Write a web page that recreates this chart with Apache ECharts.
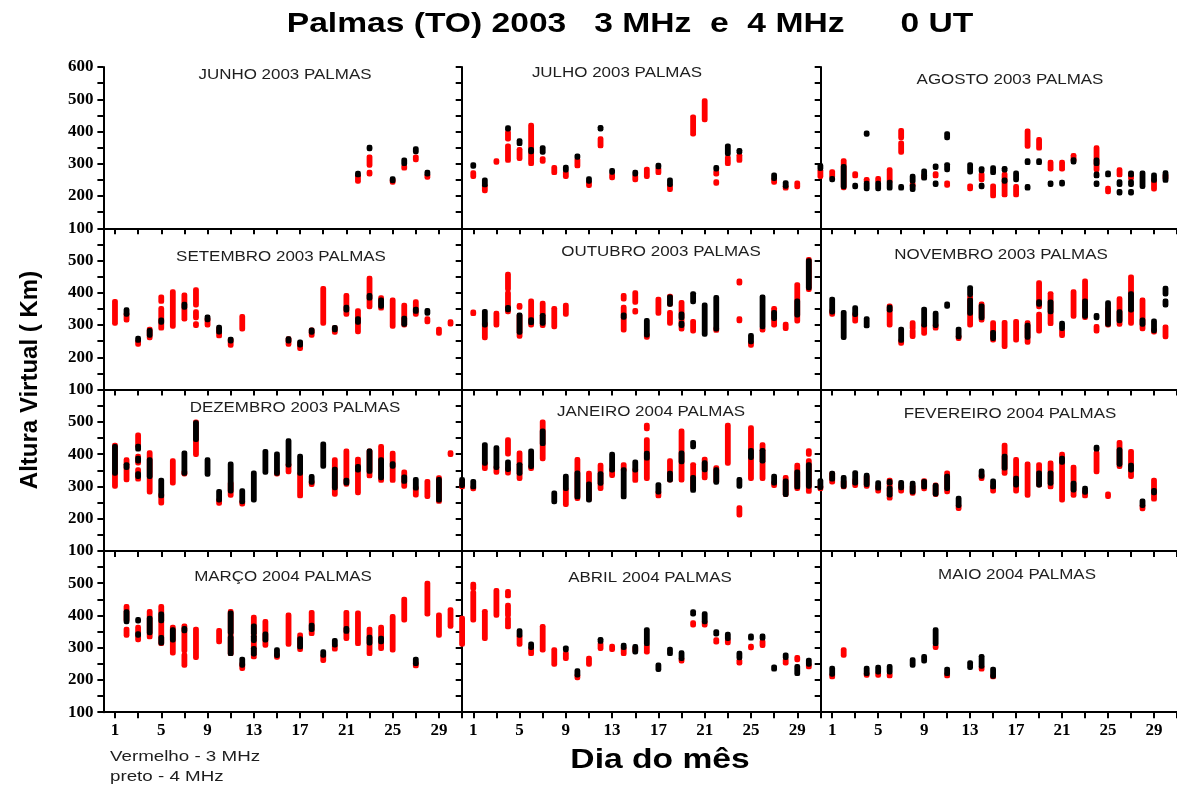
<!DOCTYPE html>
<html>
<head>
<meta charset="utf-8">
<script src="https://cdn.jsdelivr.net/npm/echarts@6/dist/echarts.min.js"></script>
<style>
  html, body { margin: 0; background: #fff; }
  #main { width: 1177px; height: 786px; }
</style>
</head>
<body>
<div id="main"></div>
<script>
// each entry: [dia, altura minima, altura maxima] (km)
const monthTitles = ['JUNHO 2003 PALMAS', 'JULHO 2003 PALMAS', 'AGOSTO 2003 PALMAS',
  'SETEMBRO 2003 PALMAS', 'OUTUBRO 2003 PALMAS', 'NOVEMBRO 2003 PALMAS',
  'DEZEMBRO 2003 PALMAS', 'JANEIRO 2004 PALMAS', 'FEVEREIRO 2004 PALMAS',
  'MARÇO 2004 PALMAS', 'ABRIL 2004 PALMAS', 'MAIO 2004 PALMAS']

const dayTicks = [1, 3, 5, 7, 9, 11, 13, 15, 17, 19, 21, 23, 25, 27, 29, 31]
const dayLabels = [1, 5, 9, 13, 17, 21, 25, 29]

const junhoRed = [[22,245,262],[23,295,322],[23,268,274],[25,242,250],[26,286,292],[27,312,322],[28,258,264]]
const junhoBlack = [[22,265,271],[23,346,352],[25,247,254],[26,300,312],[27,337,347],[28,268,274]]

const julhoRed = [[1,260,273],[2,216,232],[3,304,310],[4,310,356],[4,376,398],[5,316,345],[6,300,420],[7,307,316],[8,272,289],[9,260,273],[10,293,314],[11,232,242],[12,355,378],[13,256,266],[15,250,262],[16,260,284],[17,272,285],[18,220,232],[20,392,446],[21,436,496],[22,268,275],[22,239,245],[23,300,320],[24,310,326],[27,242,250],[28,224,230],[29,228,241],[31,260,280]]
const julhoBlack = [[1,292,298],[2,234,250],[4,407,412],[5,362,372],[6,337,345],[7,335,350],[9,280,290],[10,320,325],[11,245,254],[12,407,413],[13,273,280],[15,268,274],[17,290,296],[18,235,250],[22,283,289],[23,331,356],[24,336,342],[27,254,266],[28,230,242],[31,285,295]]

const agostoRed = [[1,260,276],[2,225,310],[3,262,270],[4,245,252],[5,246,255],[6,245,282],[7,335,365],[7,380,404],[8,232,238],[9,257,264],[10,262,270],[11,233,241],[13,222,232],[14,250,268],[15,200,232],[16,203,268],[17,203,230],[18,354,402],[19,348,376],[20,283,305],[21,283,305],[22,310,326],[24,281,350],[25,213,225],[26,265,282],[27,255,270],[29,221,250],[30,255,265]]
const agostoBlack = [[1,250,255],[2,228,292],[3,228,234],[4,222,240],[4,391,396],[5,222,240],[6,224,243],[7,224,230],[8,245,262],[8,220,232],[9,255,278],[10,288,294],[10,235,241],[11,380,394],[11,281,298],[13,274,298],[14,278,285],[14,228,234],[15,272,288],[16,245,250],[16,280,286],[17,250,272],[18,303,310],[18,224,230],[19,303,310],[20,235,241],[21,237,243],[22,305,313],[24,300,312],[24,262,269],[24,235,241],[25,265,272],[26,235,245],[26,209,215],[27,265,272],[27,235,245],[27,209,215],[28,229,272],[29,248,266],[30,248,273]]

const setembroRed = [[1,305,374],[2,315,335],[3,240,250],[4,260,288],[5,290,352],[5,373,388],[6,296,404],[7,318,394],[8,362,410],[8,322,342],[8,298,305],[9,300,320],[10,266,290],[11,237,255],[12,287,327],[16,240,258],[17,227,245],[18,268,285],[19,305,414],[20,277,292],[21,333,392],[22,279,345],[23,356,446],[24,352,385],[25,296,378],[26,300,362],[27,333,373],[28,310,320],[29,274,288],[30,303,311]]
const setembroBlack = [[2,333,348],[3,252,260],[4,268,284],[5,308,316],[7,355,365],[9,316,326],[10,278,294],[11,250,257],[16,250,258],[17,238,248],[18,277,285],[20,285,293],[21,346,356],[22,308,320],[23,383,392],[24,358,378],[26,302,322],[27,342,350],[28,336,346]]

const outubroRed = [[1,335,341],[2,260,305],[3,300,337],[4,341,400],[4,411,458],[5,265,330],[5,355,361],[6,300,375],[7,298,368],[8,294,352],[9,333,362],[14,284,356],[14,380,392],[15,370,401],[15,340,346],[16,262,270],[17,336,381],[18,305,340],[18,364,390],[19,287,371],[20,281,312],[22,283,290],[24,430,437],[24,313,320],[25,237,245],[26,284,290],[27,300,352],[28,289,303],[29,312,426],[30,410,504]]
const outubroBlack = [[2,300,343],[4,347,355],[5,277,332],[6,307,317],[7,305,330],[14,324,332],[16,269,315],[18,364,388],[19,322,335],[19,298,306],[20,372,398],[21,271,363],[22,287,386],[25,248,268],[26,294,388],[27,320,340],[29,331,375],[30,415,500]]

const novembroRed = [[1,333,345],[3,312,335],[6,300,360],[7,243,252],[8,290,308],[8,264,283],[9,274,300],[10,290,300],[12,258,265],[13,300,388],[14,315,366],[15,253,308],[16,233,309],[17,253,312],[18,246,308],[19,356,432],[19,281,334],[20,304,398],[21,267,282],[22,327,404],[23,323,437],[24,281,296],[25,300,350],[26,302,382],[27,305,450],[28,288,378],[29,278,285],[30,263,295]]
const novembroBlack = [[1,340,381],[2,261,340],[3,332,354],[4,297,320],[6,346,356],[7,252,288],[9,300,350],[10,298,337],[11,358,366],[12,263,288],[13,336,378],[13,394,416],[14,322,360],[15,258,278],[18,262,300],[19,364,373],[20,341,372],[21,289,306],[23,327,375],[24,322,330],[25,302,370],[26,313,342],[27,346,398],[28,302,316],[29,282,313],[30,396,415],[30,362,375]]

const dezembroRed = [[1,300,428],[2,320,383],[3,322,352],[3,372,394],[3,424,460],[4,282,405],[5,248,275],[6,310,380],[7,338,345],[8,398,500],[10,247,258],[11,272,310],[12,245,253],[15,338,345],[16,345,368],[17,270,338],[18,305,315],[20,275,383],[21,306,410],[22,280,385],[23,332,410],[24,318,424],[25,318,403],[26,300,345],[27,273,296],[28,268,316],[29,253,327],[30,398,405],[31,298,305]]
const dezembroBlack = [[1,340,424],[2,358,368],[3,330,340],[3,378,388],[3,415,425],[4,330,383],[5,270,320],[7,340,404],[8,445,498],[9,337,383],[10,257,285],[11,285,370],[12,252,287],[13,257,342],[14,343,409],[15,340,401],[16,366,442],[17,340,394],[18,312,331],[19,362,432],[20,295,354],[21,310,320],[22,350,362],[23,346,410],[24,326,383],[25,362,371],[26,315,330],[27,294,322],[29,257,322],[31,302,322]]

const janeiroRed = [[1,292,298],[2,355,372],[3,343,360],[4,341,355],[4,400,445],[5,324,404],[6,355,362],[7,385,500],[9,243,290],[10,262,384],[11,260,341],[12,293,366],[13,333,352],[14,350,368],[15,318,352],[16,324,445],[16,478,490],[17,270,282],[18,319,380],[19,319,472],[20,293,368],[21,326,385],[22,316,358],[23,371,490],[24,211,234],[25,324,482],[26,324,430],[27,302,312],[28,274,328],[29,293,366],[30,284,380],[30,399,411],[31,292,300]]
const janeiroBlack = [[1,298,316],[2,371,430],[3,358,420],[4,352,376],[5,340,368],[6,361,410],[7,432,472],[8,252,280],[9,293,332],[10,267,342],[11,257,308],[12,309,340],[13,350,400],[14,267,352],[15,350,376],[16,387,403],[17,282,306],[18,319,341],[19,376,404],[20,287,328],[20,422,437],[21,351,374],[22,312,352],[24,300,322],[25,389,412],[26,378,412],[27,310,332],[28,274,317],[29,298,345],[30,300,368],[31,296,318]]

const fevereiroRed = [[1,313,340],[2,298,315],[3,302,320],[4,300,330],[5,285,300],[6,263,320],[7,285,305],[8,278,300],[9,292,318],[10,274,305],[11,283,342],[12,231,240],[14,324,335],[15,285,300],[16,340,428],[17,285,384],[18,272,370],[19,304,368],[20,298,373],[21,257,400],[22,272,360],[23,270,285],[24,345,405],[25,268,277],[26,361,437],[27,330,409],[28,230,240],[29,260,320]]
const fevereiroBlack = [[1,322,341],[2,300,328],[3,310,343],[4,305,335],[5,294,312],[6,310,316],[6,273,295],[7,295,313],[8,282,310],[9,298,316],[10,276,303],[11,293,332],[12,240,264],[14,331,348],[15,298,317],[16,356,394],[17,304,326],[19,304,342],[20,309,342],[21,374,388],[22,288,310],[23,281,295],[24,415,422],[26,368,414],[27,350,366],[28,240,255],[29,280,288]]

const marcoRed = [[2,385,428],[2,338,358],[3,324,364],[4,333,413],[5,312,428],[6,283,364],[7,290,368],[7,245,278],[8,269,358],[10,318,354],[11,281,413],[12,235,250],[13,271,395],[14,307,382],[15,270,278],[16,310,402],[17,294,340],[18,343,410],[19,260,275],[20,295,305],[21,328,410],[22,312,408],[23,281,358],[24,297,364],[25,292,397],[26,385,451],[27,243,252],[28,404,500],[29,338,402],[30,366,418],[31,310,392]]
const marcoBlack = [[2,380,412],[3,338,344],[3,382,388],[4,346,392],[5,383,405],[5,314,332],[6,323,356],[7,352,360],[11,346,408],[11,281,333],[12,245,265],[13,345,368],[13,322,335],[13,280,298],[14,323,343],[15,275,294],[17,302,328],[18,356,370],[19,276,288],[20,308,323],[21,350,360],[23,314,333],[24,318,330],[27,250,265]]

const abrilRed = [[1,385,472],[1,483,497],[2,328,413],[3,400,478],[4,460,475],[4,400,432],[4,364,390],[5,310,335],[6,281,299],[7,292,366],[8,248,294],[9,266,283],[10,206,214],[11,248,268],[12,297,312],[13,294,305],[14,281,299],[15,290,300],[16,286,306],[19,258,265],[20,370,378],[21,370,380],[22,317,325],[23,315,324],[24,252,260],[25,299,305],[26,306,320],[28,252,262],[29,262,270],[30,240,246]]
const abrilBlack = [[5,338,353],[6,300,312],[9,293,300],[10,215,229],[12,319,326],[14,300,308],[15,286,304],[16,312,356],[17,232,247],[18,281,296],[19,266,285],[20,404,412],[21,380,406],[22,342,350],[23,328,342],[24,268,283],[25,329,337],[26,329,337],[27,233,241],[28,269,278],[29,219,242],[30,248,262]]

const maioRed = [[1,209,215],[2,276,294],[4,214,220],[5,214,220],[6,212,218],[10,300,306],[11,212,218],[14,233,240],[15,209,213]]
const maioBlack = [[1,217,237],[4,219,237],[5,224,240],[6,224,242],[8,245,263],[9,258,273],[10,312,356],[11,219,234],[13,238,254],[14,242,273],[15,211,234]]

const panelData = [
  [junhoRed, junhoBlack], [julhoRed, julhoBlack], [agostoRed, agostoBlack],
  [setembroRed, setembroBlack], [outubroRed, outubroBlack], [novembroRed, novembroBlack],
  [dezembroRed, dezembroBlack], [janeiroRed, janeiroBlack], [fevereiroRed, fevereiroBlack],
  [marcoRed, marcoBlack], [abrilRed, abrilBlack], [maioRed, maioBlack]
]

// layout
const colLeft = [103.4, 461.7, 820.7]
const panelW = 358.7
const rowTop = 67
const panelH = 161.3
const titlePos = [[285, 75], [617, 73], [1010, 80], [281, 257], [661, 252], [1001, 255],
  [295, 408], [651, 412], [1010, 414], [283, 577], [650, 578], [1017, 575]]

const RED = '#ff0000'
const BLACK = '#000000'
const serifBold = { fontFamily: 'Liberation Serif', fontWeight: 'bold', fontSize: 17, color: '#000' }

function stripRenderer(color) {
  return function(params, api) {
    const lo = api.coord([api.value(0), api.value(1)])
    const hi = api.coord([api.value(0), api.value(2)])
    const w = 5.8
    return {
      type: 'rect',
      shape: { x: lo[0] - w / 2, y: hi[1] - 2.3, width: w, height: lo[1] - hi[1] + 4.6, r: 2.2 },
      style: { fill: color }
    }
  }
}

const grid = []
const xAxis = []
const yAxis = []
const series = []
const graphic = []

panelData.forEach(([red, black], i) => {
  const r = Math.floor(i / 3)
  const c = i % 3
  grid.push({ left: colLeft[c], top: rowTop + r * panelH, width: panelW, height: panelH })

  const bottomIdx = xAxis.length
  xAxis.push({
    gridIndex: i, type: 'value', min: 0, max: 31, position: 'bottom',
    axisLine: { show: true, onZero: false, lineStyle: { color: '#000', width: 2 } },
    axisTick: { show: r === 3, inside: false, length: 6, customValues: dayTicks, lineStyle: { color: '#000', width: 2 } },
    axisLabel: { show: r === 3, customValues: dayLabels, margin: 10, ...serifBold },
    splitLine: { show: false }
  })
  if (r > 0) {
    xAxis.push({
      gridIndex: i, type: 'value', min: 0, max: 31, position: 'top',
      axisLine: { show: true, onZero: false, lineStyle: { color: '#000', width: 2 } },
      axisTick: { show: true, inside: true, length: 6, customValues: dayTicks, lineStyle: { color: '#000', width: 2 } },
      axisLabel: { show: false },
      splitLine: { show: false }
    })
  }
  yAxis.push({
    gridIndex: i, type: 'value', min: 100, max: 600, interval: 50,
    axisLine: { show: true, onZero: false, lineStyle: { color: '#000', width: 2 } },
    axisTick: { show: true, inside: false, length: 6, lineStyle: { color: '#000', width: 2 } },
    axisLabel: {
      show: c === 0, margin: 10, ...serifBold,
      formatter: v => (v % 100 === 0 && (r === 0 || v < 600)) ? String(v) : ''
    },
    splitLine: { show: false }
  })

  series.push({
    type: 'custom', xAxisIndex: bottomIdx, yAxisIndex: i, clip: false,
    renderItem: stripRenderer(RED), encode: { x: 0, y: [1, 2] }, data: red, silent: true
  })
  series.push({
    type: 'custom', xAxisIndex: bottomIdx, yAxisIndex: i, clip: false,
    renderItem: stripRenderer(BLACK), encode: { x: 0, y: [1, 2] }, data: black, silent: true
  })

  graphic.push({
    type: 'text', x: titlePos[i][0], y: titlePos[i][1], scaleX: 1.13,
    style: { text: monthTitles[i], fontFamily: 'Liberation Sans', fontSize: 15, fill: '#1e1e1e', align: 'center', verticalAlign: 'middle' }
  })
})

graphic.push(
  { type: 'text', x: 630, y: 24, scaleX: 1.2,
    style: { text: 'Palmas (TO) 2003   3 MHz  e  4 MHz      0 UT', fontFamily: 'Liberation Sans', fontWeight: 'bold', fontSize: 28, fill: '#000', align: 'center', verticalAlign: 'middle' } },
  { type: 'text', x: 30, y: 380, rotation: Math.PI / 2,
    style: { text: 'Altura Virtual ( Km)', fontFamily: 'Liberation Sans', fontWeight: 'bold', fontSize: 24, fill: '#000', align: 'center', verticalAlign: 'middle' } },
  { type: 'text', x: 660, y: 760, scaleX: 1.2,
    style: { text: 'Dia do mês', fontFamily: 'Liberation Sans', fontWeight: 'bold', fontSize: 28, fill: '#000', align: 'center', verticalAlign: 'middle' } },
  { type: 'text', x: 110, y: 757, scaleX: 1.25,
    style: { text: 'Vermelho - 3 MHz', fontFamily: 'Liberation Sans', fontSize: 15, fill: '#1e1e1e', align: 'left', verticalAlign: 'middle' } },
  { type: 'text', x: 110, y: 777, scaleX: 1.25,
    style: { text: 'preto - 4 MHz', fontFamily: 'Liberation Sans', fontSize: 15, fill: '#1e1e1e', align: 'left', verticalAlign: 'middle' } }
)

const chart = echarts.init(document.getElementById('main'))
chart.setOption({
  animation: false,
  backgroundColor: '#fff',
  grid,
  xAxis,
  yAxis,
  series,
  graphic
})
</script>
</body>
</html>
